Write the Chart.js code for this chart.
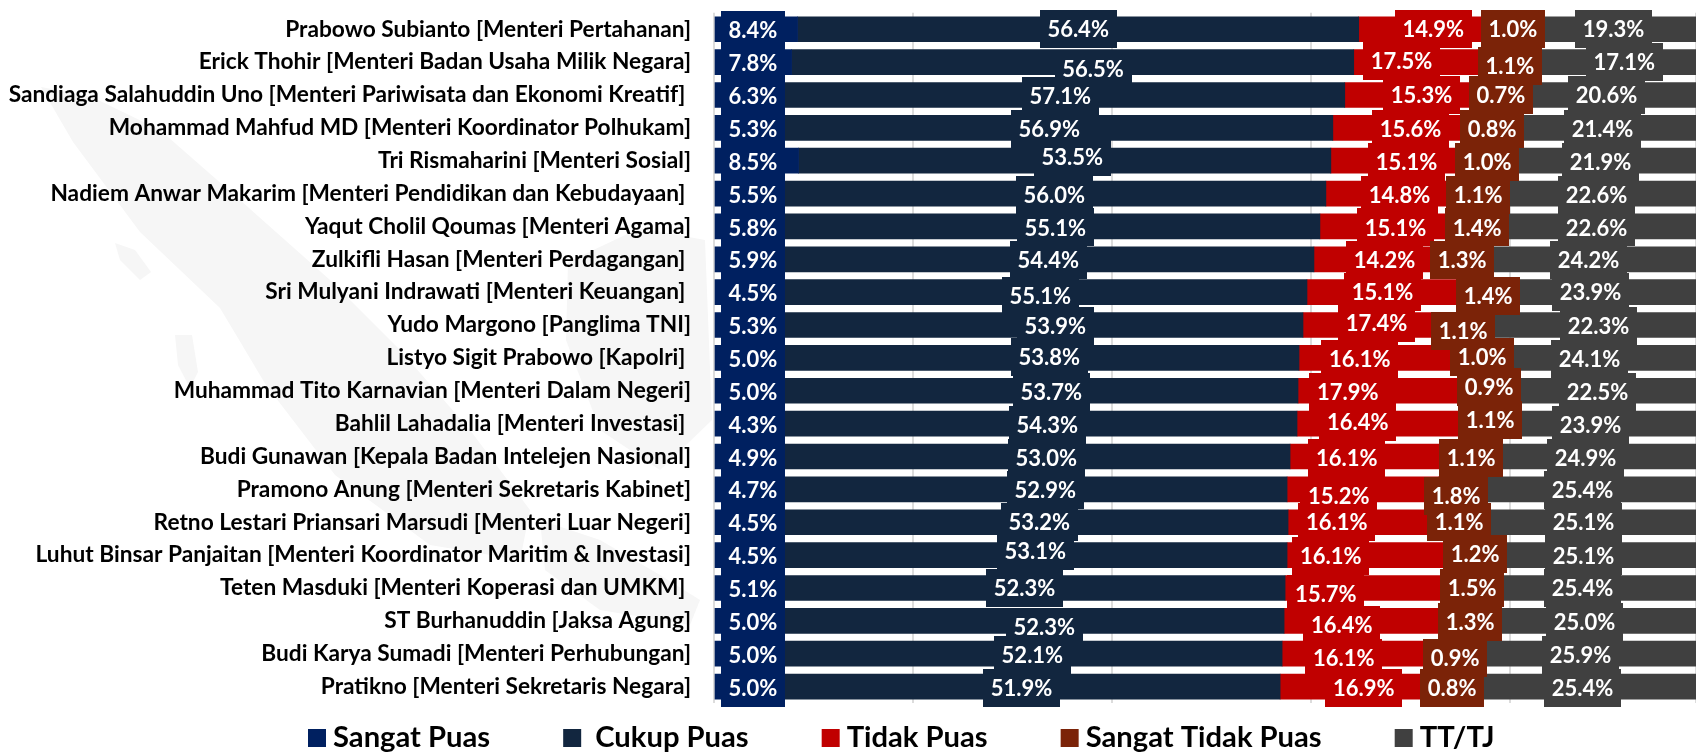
<!DOCTYPE html>
<html><head><meta charset="utf-8">
<style>
html,body{margin:0;padding:0;background:#fff;overflow:hidden}
#wrap{position:relative;width:1696px;height:752px}
#wm{position:absolute;left:0;top:0}
canvas{position:absolute;left:0;top:0}
</style>
<script src="https://cdn.jsdelivr.net/npm/chart.js@4"></script>
</head><body>
<div id="wrap">
<svg id="wm" width="1696" height="752" fill="#f6f6f6">
<path d="M41 87 L92 97 L160 130 L240 200 L330 280 L400 350 L470 430 L530 510 L520 560 L430 545 L335 475 L266 385 L220 308 L140 232 L73 142 Z"/>
<path d="M115 243 L135 250 L151 272 L140 280 L120 260 Z"/>
<path d="M175 335 L192 335 L198 372 L190 388 L178 365 Z"/>
<path d="M568 262 L640 228 L705 240 L712 420 L660 470 L600 430 L566 340 Z"/>
<path d="M540 520 L600 540 L660 575 L700 600 L690 625 L600 610 L545 570 Z"/>
</svg>
<canvas id="c" width="1696" height="752"></canvas>
</div>
<script>
const categories = [
"Prabowo Subianto [Menteri Pertahanan]","Erick Thohir [Menteri Badan Usaha Milik Negara]",
"Sandiaga Salahuddin Uno [Menteri Pariwisata dan Ekonomi Kreatif] ","Mohammad Mahfud MD [Menteri Koordinator Polhukam]",
"Tri Rismaharini [Menteri Sosial]","Nadiem Anwar Makarim [Menteri Pendidikan dan Kebudayaan] ",
"Yaqut Cholil Qoumas [Menteri Agama]","Zulkifli Hasan [Menteri Perdagangan] ",
"Sri Mulyani Indrawati [Menteri Keuangan] ","Yudo Margono [Panglima TNI]",
"Listyo Sigit Prabowo [Kapolri] ","Muhammad Tito Karnavian [Menteri Dalam Negeri]",
"Bahlil Lahadalia [Menteri Investasi] ","Budi Gunawan [Kepala Badan Intelejen Nasional]",
"Pramono Anung [Menteri Sekretaris Kabinet]","Retno Lestari Priansari Marsudi [Menteri Luar Negeri]",
"Luhut Binsar Panjaitan [Menteri Koordinator Maritim & Investasi]","Teten Masduki [Menteri Koperasi dan UMKM] ",
"ST Burhanuddin [Jaksa Agung]","Budi Karya Sumadi [Menteri Perhubungan]","Pratikno [Menteri Sekretaris Negara]"];
const sangatPuas = [8.4,7.8,6.3,5.3,8.5,5.5,5.8,5.9,4.5,5.3,5.0,5.0,4.3,4.9,4.7,4.5,4.5,5.1,5.0,5.0,5.0];
const cukupPuas = [56.4,56.5,57.1,56.9,53.5,56.0,55.1,54.4,55.1,53.9,53.8,53.7,54.3,53.0,52.9,53.2,53.1,52.3,52.3,52.1,51.9];
const tidakPuas = [14.9,17.5,15.3,15.6,15.1,14.8,15.1,14.2,15.1,17.4,16.1,17.9,16.4,16.1,15.2,16.1,16.1,15.7,16.4,16.1,16.9];
const sangatTidakPuas = [1.0,1.1,0.7,0.8,1.0,1.1,1.4,1.3,1.4,1.1,1.0,0.9,1.1,1.1,1.8,1.1,1.2,1.5,1.3,0.9,0.8];
const ttTj = [19.3,17.1,20.6,21.4,21.9,22.6,22.6,24.2,23.9,22.3,24.1,22.5,23.9,24.9,25.4,25.1,25.1,25.4,25.0,25.9,25.4];
const seriesNames = ["Sangat Puas"," Cukup Puas","Tidak Puas","Sangat Tidak Puas","TT/TJ"];
const seriesColors = ["#002060","#12263F","#C00000","#7B2308","#404040"];
const seriesValues = [sangatPuas,cukupPuas,tidakPuas,sangatTidakPuas,ttTj];

/* hand-placed label anchors, in axis units, and vertical nudges, in pixels */
const anchorSangat = Array(21).fill(3.9);
const anchorCukup = [36.6,38.1,34.8,33.7,36.0,34.2,34.3,33.6,32.8,34.3,33.7,33.9,33.5,33.4,33.3,32.7,32.3,31.2,33.2,32.0,30.9];
const anchorTidak = [72.3,69.1,71.1,70.0,69.6,68.9,68.5,67.4,67.2,66.6,64.9,63.7,64.7,63.6,62.8,62.6,62.0,61.5,63.1,63.3,65.3];
const anchorSTP = [80.3,80.0,79.1,78.2,77.7,76.8,76.7,75.2,77.8,75.3,77.2,77.9,78.0,76.1,74.6,74.9,76.5,76.2,76.0,74.5,74.2];
const anchorTT = [90.4,91.5,89.7,89.3,89.1,88.7,88.7,87.9,88.1,88.9,88.0,88.8,88.1,87.6,87.3,87.4,87.4,87.3,87.5,87.1,87.3];
const nudgeSangat = Array(21).fill(1);
const nudgeCukup = [0,7,1,1,-4,1,1,1,4,1,-1,1,1,1,1,0,-4.5,0,6,1,1];
const nudgeTidak = [0,-1,0,1,1,1,1,1,0,-2,1,1,-2,1,7,0,1,6,4,4,1];
const nudgeSTP = [0,4,0,1,1,1,1,1,4,6,-1,-4,-4,1,7,0,-1.5,0,1,4,1];
const nudgeTT = [0,0,0,1,1,1,1,1,0,1,1,1,1,1,1,0,1,0,1,1,1];
const anchors = [anchorSangat,anchorCukup,anchorTidak,anchorSTP,anchorTT];
const nudges = [nudgeSangat,nudgeCukup,nudgeTidak,nudgeSTP,nudgeTT];

const FONT = 'Lato, "Open Sans", sans-serif';

const labelBoxes = {
  id:'labelBoxes',
  afterDatasetsDraw(chart){
    const {ctx,scales:{x,y}} = chart;
    ctx.save();
    ctx.font = 'bold 22px '+FONT;
    ctx.textAlign='center';ctx.textBaseline='middle';
    const boxW=[64,77,77,64,77], boxH=38;
    seriesValues.forEach((vals,s)=>{
      vals.forEach((v,i)=>{
        const cx=x.getPixelForValue(anchors[s][i]), cy=y.getPixelForValue(i)+nudges[s][i];
        ctx.fillStyle=seriesColors[s];
        ctx.fillRect(Math.round(cx-boxW[s]/2),Math.round(cy-boxH/2),boxW[s],boxH);
      });
    });
    seriesValues.forEach((vals,s)=>{
      vals.forEach((v,i)=>{
        const cx=x.getPixelForValue(anchors[s][i]), cy=y.getPixelForValue(i)+nudges[s][i];
        ctx.fillStyle='#fff';
        ctx.fillText(v.toFixed(1)+'%',cx,cy+1);
      });
    });
    ctx.restore();
  }
};
const bottomLegend = {
  id:'bottomLegend',
  afterDraw(chart){
    const {ctx}=chart;
    ctx.save();
    ctx.font='bold 29.2px '+FONT;
    ctx.textBaseline='middle';ctx.textAlign='left';
    let px=308;
    seriesNames.forEach((n,i)=>{
      ctx.fillStyle=seriesColors[i];
      ctx.fillRect(px,729,18,18);
      ctx.fillStyle='#000';
      ctx.fillText(n,px+25,738);
      px+=25+ctx.measureText(n).width+73;
    });
    ctx.restore();
  }
};

new Chart(document.getElementById('c'),{
  type:'bar',
  data:{labels:categories,datasets:seriesValues.map((d,i)=>({
    label:seriesNames[i],data:d,backgroundColor:seriesColors[i],borderWidth:0,barThickness:25
  }))},
  options:{
    indexAxis:'y',responsive:false,animation:false,
    layout:{padding:{top:12.8,bottom:49,left:0,right:0}},
    plugins:{legend:{display:false},title:{display:false},tooltip:{enabled:false}},
    scales:{
      x:{stacked:true,min:0,max:98.7,
        afterFit(s){s.height=0;s.paddingLeft=0;s.paddingRight=0;},
        ticks:{display:false,stepSize:20},
        grid:{color:'#dcdcdc',lineWidth:2,drawTicks:false},border:{display:false}},
      y:{stacked:true,
        afterFit(s){s.width=714;s.paddingTop=0;s.paddingBottom=0;},
        ticks:{autoSkip:false,padding:15,color:'#000',font:{family:FONT,weight:'bold',size:22.7}},
        grid:{display:false},border:{display:false}}
    }
  },
  plugins:[labelBoxes,bottomLegend]
});
</script>
</body></html>
